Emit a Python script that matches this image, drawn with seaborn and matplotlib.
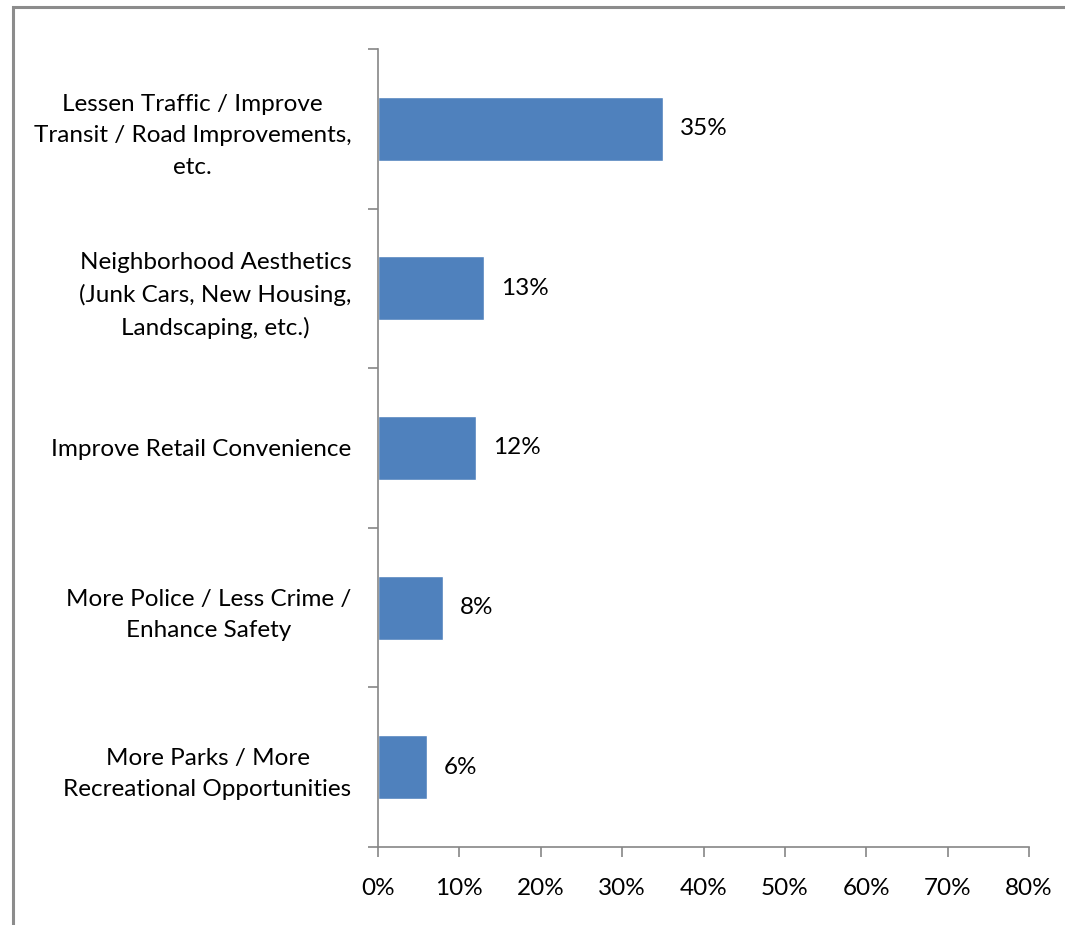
import matplotlib
matplotlib.use("Agg")
import matplotlib.pyplot as plt
import seaborn as sns
import pandas as pd
from matplotlib.patches import Rectangle
from matplotlib.ticker import FuncFormatter, MultipleLocator

categories = [
    "Lessen Traffic / Improve\nTransit / Road Improvements,\netc.",
    "Neighborhood Aesthetics\n(Junk Cars, New Housing,\nLandscaping, etc.)",
    "Improve Retail Convenience",
    "More Police / Less Crime /\nEnhance Safety",
    "More Parks / More\nRecreational Opportunities",
]
values = [35, 13, 12, 8, 6]
value_labels = ["35%", "13%", "12%", "8%", "6%"]

df = pd.DataFrame({"cat": categories, "val": values})

sns.set_style("white")
plt.rcParams["font.family"] = ["Lato", "DejaVu Sans"]
plt.rcParams["text.color"] = "black"
plt.rcParams["xtick.color"] = "black"
plt.rcParams["ytick.color"] = "black"

fs = 17.5
fig = plt.figure(figsize=(10.65, 9.25), dpi=100)
ax = fig.add_axes([378 / 1065, 1 - 847 / 925, (1029 - 378) / 1065, (847 - 49) / 925])

sns.barplot(data=df, x="val", y="cat", color="#4F81BD", saturation=1, width=0.4, ax=ax)

grey = "#868686"
ax.set_xlim(0, 80)
ax.set_ylim(4.5, -0.5)
ax.xaxis.set_major_locator(MultipleLocator(10))
ax.xaxis.set_major_formatter(FuncFormatter(lambda v, p: f"{v:.0f}%"))
ax.set_yticks([i - 0.5 for i in range(6)], minor=False)
ax.set_yticklabels([])
ax.set_yticks(range(5), minor=True)
ax.set_yticklabels(categories, minor=True, multialignment="center", linespacing=1.6)
ax.tick_params(axis="y", which="minor", length=0, pad=19, labelsize=fs, labelcolor="black")
ax.tick_params(axis="y", which="major", length=7, width=1.2, color=grey, direction="out", left=True)
ax.tick_params(axis="x", length=7, width=1.2, color=grey, direction="out", bottom=True,
               labelsize=fs, pad=15, labelcolor="black")
ax.set_xlabel("")
ax.set_ylabel("")

for s in ["top", "right"]:
    ax.spines[s].set_visible(False)
for s in ["left", "bottom"]:
    ax.spines[s].set_color(grey)
    ax.spines[s].set_linewidth(1.2)

for i, (v, lab) in enumerate(zip(values, value_labels)):
    ax.annotate(lab, (v, i), xytext=(17, 0), textcoords="offset pixels",
                ha="left", va="center", fontsize=fs, color="black")

fig.patches.append(Rectangle((12.5 / 1065, -0.1), 1.2, 1 - 6.5 / 925 + 0.1,
                             transform=fig.transFigure, fill=False,
                             edgecolor="#8c8c8c", linewidth=2.2, zorder=10))

fig.savefig("out.png", dpi=100, facecolor="white")
